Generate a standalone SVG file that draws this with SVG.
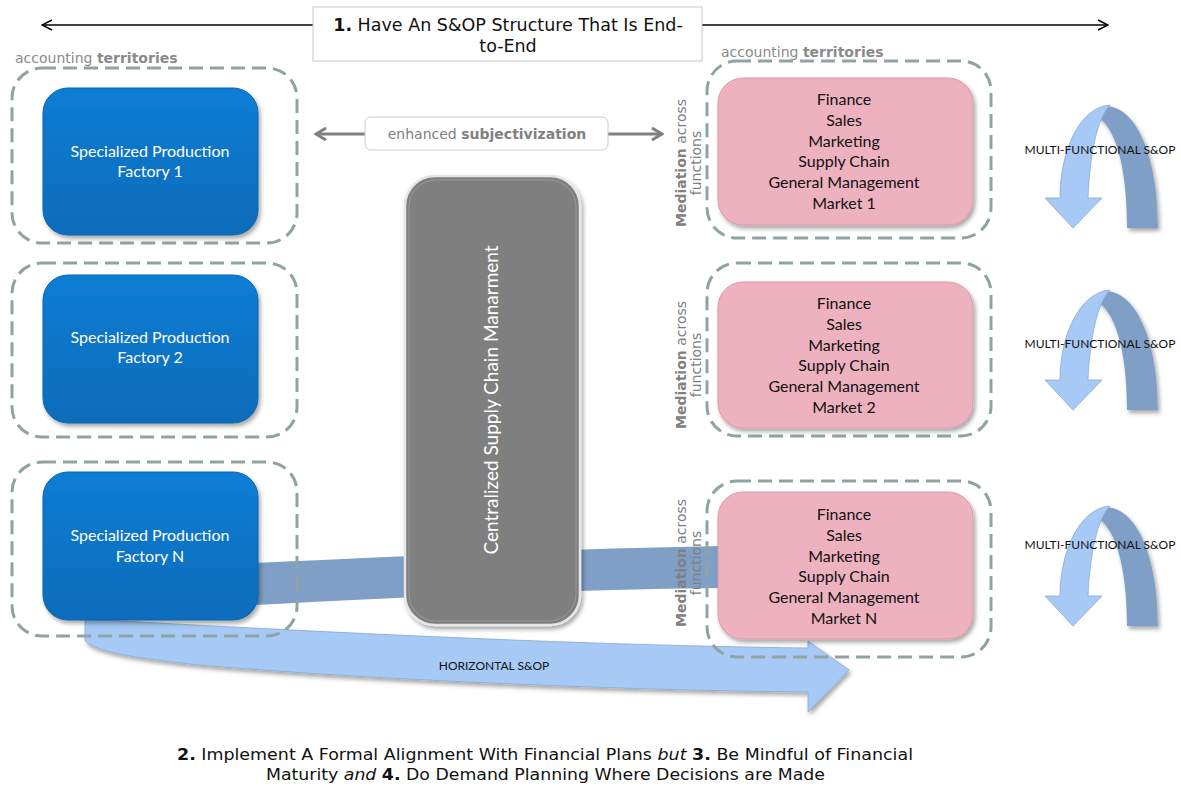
<svg xmlns="http://www.w3.org/2000/svg" width="1181" height="786" viewBox="0 0 1181 786">
<defs>
<style>
.cont{fill:none;stroke:#8FA3A3;stroke-width:3;stroke-dasharray:14 7}
.pink{fill:#EDB1C0;stroke:#D99AAA;stroke-width:1}
.btxt{font-family:Lato,'Open Sans',sans-serif;font-size:16px;fill:#FFFFFF;text-anchor:middle}
.ptxt{font-family:Lato,'Open Sans',sans-serif;font-size:16px;fill:#111111;text-anchor:middle}
.acc{font-family:'DejaVu Sans',Verdana,sans-serif;font-size:14px;fill:#8A8A8A}
.med{font-family:'DejaVu Sans',Verdana,sans-serif;font-size:14px;fill:#808080;text-anchor:middle}
.mf{font-family:Lato,'Open Sans',sans-serif;font-size:12px;fill:#111111;text-anchor:middle}
.b{font-weight:bold}
.lb{fill:#A6CAF5;stroke:#8AA8CC;stroke-width:0.8}
.db{fill:#7F9FC6}
</style>
<filter id="sh" x="-10%" y="-10%" width="130%" height="130%">
<feDropShadow dx="2" dy="3" stdDeviation="2" flood-color="#000" flood-opacity="0.35"/>
</filter>
<marker id="chev" viewBox="0 0 12 12" refX="11" refY="6" markerWidth="12" markerHeight="12" markerUnits="userSpaceOnUse" orient="auto-start-reverse">
<path d="M1,1 L11,6 L1,11" fill="none" stroke="#000" stroke-width="1.5"/>
</marker>
<marker id="gchev" viewBox="0 0 14 14" refX="12" refY="7" markerWidth="14" markerHeight="14" markerUnits="userSpaceOnUse" orient="auto-start-reverse">
<path d="M2,1 L12,7 L2,13" fill="none" stroke="#808080" stroke-width="3"/>
</marker>
<linearGradient id="gblue" x1="0" y1="0" x2="0" y2="1">
<stop offset="0" stop-color="#0C7DD4"/>
<stop offset="1" stop-color="#086CBB"/>
</linearGradient>
</defs>
<rect width="1181" height="786" fill="#FFFFFF"/>

<g id="connectors">
<line x1="42" y1="25" x2="1108" y2="25" stroke="#000" stroke-width="1.5" marker-start="url(#chev)" marker-end="url(#chev)"/>
<line x1="365" y1="134" x2="316" y2="134" stroke="#808080" stroke-width="3" marker-end="url(#gchev)"/>
<line x1="608" y1="134" x2="662" y2="134" stroke="#808080" stroke-width="3" marker-end="url(#gchev)"/>
<path class="db" d="M255,563 C400,556 560,549 720,546 L720,588 C560,590 400,597 255,605 Z"/>
<path id="horizontal" class="lb" filter="url(#sh)" d="M85,619 C250,628 550,645 808,648 L808,641 L849,670 L808,712 L808,692 C600,690 350,678 200,665 C130,658 90,650 85,640 Z"/>
<text class="mf" x="494" y="670">HORIZONTAL S&amp;OP</text>
</g>

<g id="title">
<rect x="313" y="7" width="389" height="54" fill="#FFFFFF" stroke="#C8C8C8" stroke-width="1"/>
<text font-family="'DejaVu Sans',Verdana,sans-serif" font-size="17.5px" fill="#111" text-anchor="middle"><tspan x="508" y="31"><tspan class="b">1.</tspan>  Have An S&amp;OP Structure That Is End-</tspan><tspan x="508" y="52">to-End</tspan></text>
</g>

<g id="left-territories">
<text class="acc" x="15" y="63">accounting <tspan class="b">territories</tspan></text>
<rect class="cont" x="12" y="68" width="285" height="175" rx="30"/>
<rect class="cont" x="12" y="263" width="285" height="174" rx="30"/>
<rect class="cont" x="12" y="462" width="285" height="174" rx="30"/>
</g>

<g id="factory1">
<rect x="43" y="88" width="215" height="147" rx="25" fill="url(#gblue)" stroke="#0B66AD" filter="url(#sh)"/>
<text class="btxt"><tspan x="150" y="157">Specialized Production</tspan><tspan x="150" y="177">Factory 1</tspan></text>
</g>
<g id="factory2">
<rect x="43" y="275" width="215" height="148" rx="25" fill="url(#gblue)" stroke="#0B66AD" filter="url(#sh)"/>
<text class="btxt"><tspan x="150" y="343">Specialized Production</tspan><tspan x="150" y="363">Factory 2</tspan></text>
</g>
<g id="factoryN">
<rect x="43" y="472" width="215" height="148" rx="25" fill="url(#gblue)" stroke="#0B66AD" filter="url(#sh)"/>
<text class="btxt"><tspan x="150" y="541">Specialized Production</tspan><tspan x="150" y="562">Factory N</tspan></text>
</g>

<g id="subjectivization">
<rect x="365" y="117" width="243" height="33" rx="6" fill="#FFFFFF" stroke="#CCCCCC" stroke-width="1"/>
<text font-family="'DejaVu Sans',Verdana,sans-serif" font-size="14px" fill="#808080" text-anchor="middle" x="487" y="139">enhanced <tspan class="b">subjectivization</tspan></text>
</g>

<g id="central">
<rect x="405" y="176" width="175" height="449" rx="30" fill="#7F7F7F" stroke="#E6E6E6" stroke-width="2.5" filter="url(#sh)"/>
<rect x="409" y="180" width="167" height="441" rx="27" fill="none" stroke="#9A9A9A" stroke-width="1"/>
<text font-family="Lato,'Open Sans',sans-serif" font-size="19px" fill="#FFFFFF" text-anchor="middle" transform="translate(498,400) rotate(-90)">Centralized Supply Chain Manarment</text>
</g>

<g id="right-territories">
<text class="acc" x="721" y="57">accounting <tspan class="b">territories</tspan></text>
<rect class="cont" x="707" y="61" width="284" height="177" rx="30"/>
<rect class="cont" x="707" y="263" width="284" height="173" rx="30"/>
<rect class="cont" x="707" y="481" width="284" height="176" rx="30"/>
<text class="med" transform="translate(686,163) rotate(-90)"><tspan x="0" y="0"><tspan class="b">Mediation</tspan> across</tspan><tspan x="0" y="15">functions</tspan></text>
<text class="med" transform="translate(686,365) rotate(-90)"><tspan x="0" y="0"><tspan class="b">Mediation</tspan> across</tspan><tspan x="0" y="15">functions</tspan></text>
<text class="med" transform="translate(686,563) rotate(-90)"><tspan x="0" y="0"><tspan class="b">Mediation</tspan> across</tspan><tspan x="0" y="15">functions</tspan></text>
</g>

<g id="market1">
<rect class="pink" x="718" y="78" width="255" height="147" rx="25" filter="url(#sh)"/>
<text class="ptxt"><tspan x="844" y="105">Finance</tspan><tspan x="844" y="126">Sales</tspan><tspan x="844" y="147">Marketing</tspan><tspan x="844" y="167">Supply Chain</tspan><tspan x="844" y="188">General Management</tspan><tspan x="844" y="209">Market 1</tspan></text>
</g>
<g id="market2">
<rect class="pink" x="718" y="282" width="255" height="146" rx="25" filter="url(#sh)"/>
<text class="ptxt"><tspan x="844" y="309">Finance</tspan><tspan x="844" y="330">Sales</tspan><tspan x="844" y="351">Marketing</tspan><tspan x="844" y="371">Supply Chain</tspan><tspan x="844" y="392">General Management</tspan><tspan x="844" y="413">Market 2</tspan></text>
</g>
<g id="marketN">
<rect class="pink" x="718" y="492" width="255" height="147" rx="25" filter="url(#sh)"/>
<text class="ptxt"><tspan x="844" y="520">Finance</tspan><tspan x="844" y="541">Sales</tspan><tspan x="844" y="562">Marketing</tspan><tspan x="844" y="582">Supply Chain</tspan><tspan x="844" y="603">General Management</tspan><tspan x="844" y="624">Market N</tspan></text>
</g>

<g id="mf1">
<path class="db" filter="url(#sh)" d="M1105,106 C1138,106 1158,160 1158,228 L1127,228 C1127,165 1115,125 1095,115 Z"/>
<path class="lb" stroke="none" d="M1060,198 C1060,150 1080,107 1110,105 C1098,118 1090,150 1088,198 L1102,198 L1073,228 L1045,198 Z"/>
<text class="mf" x="1100" y="154">MULTI-FUNCTIONAL S&amp;OP</text>
</g>
<g id="mf2">
<path class="db" filter="url(#sh)" d="M1105,291 C1138,291 1158,345 1158,410 L1127,410 C1127,350 1115,310 1095,300 Z"/>
<path class="lb" stroke="none" d="M1060,380 C1060,335 1080,292 1110,290 C1098,303 1090,335 1088,380 L1102,380 L1073,410 L1045,380 Z"/>
<text class="mf" x="1100" y="348">MULTI-FUNCTIONAL S&amp;OP</text>
</g>
<g id="mf3">
<path class="db" filter="url(#sh)" d="M1105,507 C1138,507 1158,560 1158,626 L1127,626 C1127,566 1115,526 1095,516 Z"/>
<path class="lb" stroke="none" d="M1060,596 C1060,551 1080,508 1110,506 C1098,519 1090,551 1088,596 L1102,596 L1073,626 L1045,596 Z"/>
<text class="mf" x="1100" y="549">MULTI-FUNCTIONAL S&amp;OP</text>
</g>

<g id="footer">
<text font-family="'DejaVu Sans',Verdana,sans-serif" font-size="15.5px" fill="#111" x="177" y="760" textLength="736" lengthAdjust="spacingAndGlyphs"><tspan class="b">2.</tspan> Implement A Formal Alignment With Financial Plans <tspan font-style="italic">but</tspan> <tspan class="b">3.</tspan> Be Mindful of Financial</text>
<text font-family="'DejaVu Sans',Verdana,sans-serif" font-size="15.5px" fill="#111" x="266" y="780" textLength="559" lengthAdjust="spacingAndGlyphs">Maturity <tspan font-style="italic">and</tspan> <tspan class="b">4.</tspan> Do Demand Planning Where Decisions are Made</text>
</g>
</svg>
